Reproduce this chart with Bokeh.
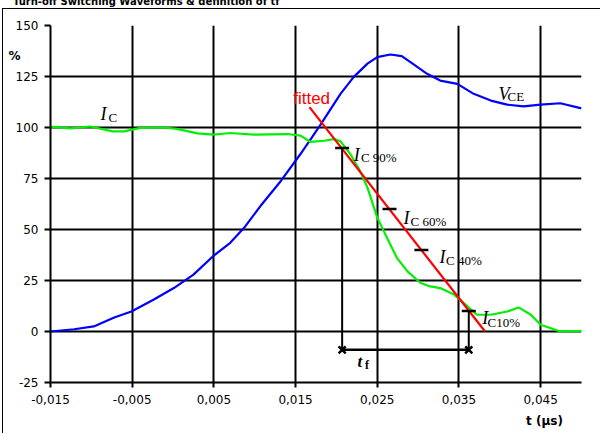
from bokeh.plotting import figure
from bokeh.models import FixedTicker, Label, LinearAxis, InlineStyleSheet
from bokeh.embed import file_html
from bokeh.resources import INLINE

# ---------------- data ----------------
title_text = "Turn-off Switching Waveforms & definition of tf"
x_axis_text = "t (µs)"
y_axis_text = "%"

x_ticks = [-0.015, -0.005, 0.005, 0.015, 0.025, 0.035, 0.045]
x_tick_labels = ["-0,015", "-0,005", "0,005", "0,015", "0,025", "0,035", "0,045"]
y_ticks = [-25, 0, 25, 50, 75, 100, 125, 150]
y_tick_labels = ["-25", "0", "25", "50", "75", "100", "125", "150"]

vce_t = [-0.015, -0.0121, -0.0097, -0.0072, -0.0051, -0.0024, 0.0001, 0.0025,
         0.0049, 0.0070, 0.0087, 0.0107, 0.0132, 0.0156, 0.0180, 0.0205,
         0.0221, 0.0238, 0.0250, 0.0266, 0.0280, 0.0295, 0.0311, 0.0327,
         0.0348, 0.0368, 0.0389, 0.0409, 0.0429, 0.0450, 0.0474, 0.0500]
vce_v = [0, 1.1, 2.5, 6.9, 9.8, 15.6, 21.3, 27.9,
         36.9, 43.5, 50.8, 61.5, 73.8, 87.0, 101.0, 116.5,
         124.7, 131.3, 134.5, 135.8, 135.0, 130.8, 126.3, 123.0,
         121.4, 116.5, 113.2, 111.2, 110.4, 111.2, 111.9, 109.4]

ic_t = [-0.015, -0.0126, -0.0101, -0.0074, -0.0060, -0.0040, -0.0011, 0.0005,
        0.0030, 0.0050, 0.0070, 0.0099, 0.0140, 0.0156, 0.0168, 0.0185,
        0.0197, 0.0205, 0.0217, 0.0229, 0.0238, 0.0250, 0.0262, 0.0274,
        0.0287, 0.0303, 0.0315, 0.0327, 0.0344, 0.0356, 0.0372, 0.0389,
        0.0409, 0.0423, 0.0438, 0.0450, 0.0474, 0.0500]
ic_v = [100.4, 99.6, 100.5, 98.1, 98.1, 99.8, 100.0, 99.3,
        97.1, 96.5, 97.3, 96.5, 96.8, 96.0, 93.0, 93.5,
        94.3, 93.2, 87.0, 78.7, 70.5, 55.8, 45.9, 36.1,
        29.5, 23.8, 22.1, 21.3, 18.1, 13.9, 8.2, 8.2,
        9.8, 11.8, 8.2, 3.3, 0.0, 0.3]

fit_t = [0.0167, 0.0382]
fit_v = [110.0, 0.0]

lvl_sub = ["C 90%", "C 60%", "C 40%", "C10%"]
lvl_v = [90, 60, 40, 10]
lvl_t = [0.0207, 0.0265, 0.0304, 0.0362]
tf_level = -9

# positions (data units) of the texts that sit outside the plot area
title_x = -0.00327
x_text_x = 0.04547
y_text_y = 135

# ---------------- figure ----------------
SHIFT = 10          # canvas starts 10px above the page top
W, H = 600, 443
p = figure(width=W, height=H, x_range=(-0.015, 0.050), y_range=(-25, 150),
           output_backend="svg", toolbar_location=None, title=None,
           min_border_left=50, min_border_top=25 + SHIFT,
           min_border_right=W - 581, min_border_bottom=H - (382 + SHIFT))
p.styles = {"position": "absolute", "left": "0px", "top": f"-{SHIFT}px",
            "overflow": "hidden"}
p.stylesheets = [InlineStyleSheet(css=(
    ":host::after { content: ''; position: absolute; left: 2px; top: %dpx; "
    "width: 2000px; height: 2000px; border-left: 1px solid black; "
    "border-top: 1px solid black; pointer-events: none; z-index: 100; }" % (8 + SHIFT)))]
p.outline_line_color = None
p.background_fill_color = "white"
p.border_fill_color = "white"

for ax in (p.xaxis[0], p.yaxis[0]):
    ax.axis_line_color = "black"
    ax.axis_line_width = 2
    ax.major_tick_line_color = "black"
    ax.major_tick_line_width = 2
    ax.major_tick_in = 0
    ax.minor_tick_line_color = None
    ax.major_label_text_font = "DejaVu Sans"
    ax.major_label_text_font_size = "12px"
    ax.major_label_text_color = "black"

p.xaxis[0].ticker = FixedTicker(ticks=x_ticks)
p.xaxis[0].major_label_overrides = dict(zip(x_ticks, x_tick_labels))
p.xaxis[0].major_tick_out = 5
p.xaxis[0].major_label_standoff = 7
p.yaxis[0].ticker = FixedTicker(ticks=y_ticks)
p.yaxis[0].major_label_overrides = dict(zip(y_ticks, y_tick_labels))
p.yaxis[0].major_tick_out = 6
p.yaxis[0].major_label_standoff = 6

p.xgrid[0].ticker = FixedTicker(ticks=x_ticks)
p.ygrid[0].ticker = FixedTicker(ticks=y_ticks)
for g in (p.xgrid[0], p.ygrid[0]):
    g.grid_line_color = "black"
    g.grid_line_width = 2
    g.grid_line_alpha = 1.0


def text_axis(pos, text, size, standoff):
    ax = LinearAxis(ticker=FixedTicker(ticks=[pos]), major_label_overrides={pos: text},
                    axis_line_color=None, major_tick_line_color=None,
                    minor_tick_line_color=None, major_tick_out=0, major_tick_in=0,
                    major_label_standoff=standoff, major_label_text_font="DejaVu Sans",
                    major_label_text_font_size=size, major_label_text_font_style="bold",
                    major_label_text_color="black")
    return ax

p.add_layout(text_axis(title_x, title_text, "10px", 19), "above")
p.add_layout(text_axis(x_text_x, x_axis_text, "12px", 7), "below")
p.add_layout(text_axis(y_text_y, y_axis_text, "12px", -8), "left")

# curves
p.line(vce_t, vce_v, line_color="#0000FF", line_width=2.2)
p.line(ic_t, ic_v, line_color="#00F000", line_width=2.2)
p.line(fit_t, fit_v, line_color="#FF0000", line_width=2.2)

# level markers
p.scatter(lvl_t, lvl_v, marker="dash", size=14, line_width=2.5, line_color="black")
p.segment(x0=[lvl_t[0], lvl_t[3]], y0=[lvl_v[0], lvl_v[3]],
          x1=[lvl_t[0], lvl_t[3]], y1=[tf_level, tf_level],
          line_color="black", line_width=2)
p.segment(x0=[lvl_t[0]], y0=[tf_level], x1=[lvl_t[3]], y1=[tf_level],
          line_color="black", line_width=2.5)
p.scatter([lvl_t[0], lvl_t[3]], [tf_level, tf_level], marker="x", size=10,
          line_width=2.5, line_color="black")

SERIF = "Liberation Serif"

def lab(x, y, text, font, size, style="normal", color="black"):
    p.add_layout(Label(x=x, y=y, text=text, text_font=font, text_font_size=size,
                       text_font_style=style, text_color=color, text_align="left",
                       text_baseline="alphabetic"))

lab(-0.00888, 106.7, "I", SERIF, "18px", "italic")
lab(-0.00790, 105.1, "C", SERIF, "13px")
lab(0.03984, 116.5, "V", SERIF, "18px", "italic")
lab(0.04094, 115.4, "CE", SERIF, "13px")
lab(0.01471, 114.2, "fitted", "Liberation Sans", "17px", color="#FF0000")

i_pos = [(0.02213, 86.6), (0.02821, 55.4), (0.03262, 36.3), (0.03785, 6.4)]
s_pos = [(0.02300, 85.3), (0.02907, 53.9), (0.03341, 34.8), (0.03850, 4.4)]
for (ix, iy), (sx, sy), s in zip(i_pos, s_pos, lvl_sub):
    lab(ix, iy, "I", SERIF, "18px", "italic")
    lab(sx, sy, s, SERIF, "13px")

lab(0.02258, -14.7, "t", SERIF, "17px", "bold italic")
lab(0.02350, -16.3, "f", SERIF, "12px", "bold")

open("out.html", "w").write(file_html(p, INLINE))
